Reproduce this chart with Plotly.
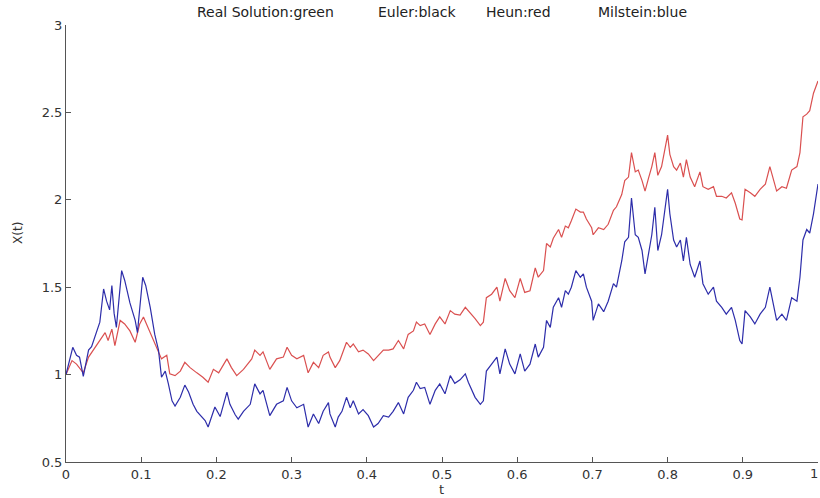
import plotly.graph_objects as go

# Milstein (blue)
t_blue = [0.000, 0.009, 0.014, 0.018, 0.023, 0.030, 0.034, 0.041, 0.045, 0.050, 0.054, 0.058, 0.061, 0.064, 0.067,
          0.074, 0.078, 0.085, 0.092, 0.095, 0.102, 0.106, 0.112, 0.118, 0.123, 0.127, 0.132, 0.136, 0.141, 0.145,
          0.152, 0.158, 0.163, 0.169, 0.174, 0.185, 0.189, 0.198, 0.205, 0.214, 0.218, 0.225, 0.229, 0.236, 0.245,
          0.251, 0.258, 0.262, 0.271, 0.280, 0.289, 0.294, 0.300, 0.307, 0.316, 0.322, 0.329, 0.336, 0.342, 0.349,
          0.351, 0.358, 0.362, 0.367, 0.373, 0.378, 0.382, 0.389, 0.395, 0.402, 0.409, 0.415, 0.422, 0.429, 0.435,
          0.442, 0.449, 0.455, 0.462, 0.466, 0.471, 0.477, 0.484, 0.491, 0.497, 0.504, 0.511, 0.517, 0.524, 0.531,
          0.535, 0.544, 0.551, 0.555, 0.559, 0.566, 0.573, 0.577, 0.584, 0.590, 0.597, 0.604, 0.610, 0.617, 0.624,
          0.628, 0.635, 0.639, 0.644, 0.648, 0.655, 0.659, 0.664, 0.668, 0.672, 0.678, 0.684, 0.688, 0.692, 0.699,
          0.701, 0.708, 0.715, 0.721, 0.728, 0.732, 0.739, 0.743, 0.748, 0.752, 0.757, 0.761, 0.766, 0.770, 0.775,
          0.779, 0.783, 0.787, 0.792, 0.797, 0.800, 0.803, 0.808, 0.812, 0.817, 0.821, 0.825, 0.830, 0.836, 0.843,
          0.847, 0.854, 0.861, 0.865, 0.872, 0.878, 0.885, 0.890, 0.896, 0.899, 0.903, 0.910, 0.916, 0.923, 0.930,
          0.936, 0.941, 0.945, 0.952, 0.958, 0.965, 0.972, 0.976, 0.980, 0.985, 0.989, 0.994, 0.998, 1.000]
x_blue = [1.00, 1.156, 1.11, 1.10, 0.99, 1.14, 1.16, 1.25, 1.30, 1.49, 1.42, 1.37, 1.51, 1.35, 1.27,
          1.595, 1.54, 1.41, 1.31, 1.24, 1.557, 1.51, 1.385, 1.23, 1.14, 0.985, 1.02, 0.95, 0.85, 0.82,
          0.87, 0.94, 0.90, 0.83, 0.79, 0.737, 0.70, 0.815, 0.76, 0.90, 0.83, 0.77, 0.745, 0.79, 0.83,
          0.947, 0.89, 0.91, 0.765, 0.83, 0.85, 0.927, 0.85, 0.81, 0.83, 0.70, 0.775, 0.72, 0.79, 0.84,
          0.775, 0.70, 0.757, 0.79, 0.87, 0.81, 0.85, 0.775, 0.80, 0.765, 0.70, 0.72, 0.765, 0.757, 0.79,
          0.84, 0.775, 0.87, 0.91, 0.956, 0.92, 0.927, 0.83, 0.91, 0.947, 0.89, 0.994, 0.95, 0.97, 1.004,
          0.956, 0.87, 0.83, 0.85, 1.02, 1.06, 1.10, 1.004, 1.147, 1.06, 1.004, 1.118, 1.02, 1.06, 1.175,
          1.10, 1.156, 1.31, 1.27, 1.385, 1.44, 1.385, 1.48, 1.46, 1.50, 1.595, 1.557, 1.576, 1.50, 1.42,
          1.31, 1.405, 1.36, 1.42, 1.52, 1.50, 1.65, 1.76, 1.785, 2.01, 1.80, 1.785, 1.71, 1.576, 1.71,
          1.80, 1.957, 1.71, 1.80, 1.957, 2.06, 1.92, 1.77, 1.73, 1.77, 1.65, 1.785, 1.63, 1.557, 1.65,
          1.52, 1.46, 1.50, 1.42, 1.385, 1.346, 1.385, 1.31, 1.195, 1.175, 1.366, 1.33, 1.29, 1.346, 1.385,
          1.50, 1.385, 1.31, 1.346, 1.31, 1.44, 1.42, 1.557, 1.77, 1.83, 1.81, 1.92, 2.04, 2.09]

# Heun (red)
t_red = [0.000, 0.008, 0.014, 0.023, 0.030, 0.036, 0.045, 0.052, 0.056, 0.061, 0.065, 0.072, 0.078, 0.085, 0.092,
         0.098, 0.103, 0.109, 0.116, 0.123, 0.127, 0.134, 0.138, 0.145, 0.152, 0.158, 0.165, 0.174, 0.182, 0.189,
         0.196, 0.203, 0.214, 0.220, 0.227, 0.236, 0.247, 0.251, 0.258, 0.262, 0.271, 0.280, 0.289, 0.294, 0.300,
         0.307, 0.316, 0.322, 0.329, 0.336, 0.342, 0.349, 0.351, 0.358, 0.364, 0.373, 0.378, 0.382, 0.389, 0.395,
         0.402, 0.409, 0.415, 0.422, 0.429, 0.435, 0.442, 0.449, 0.455, 0.462, 0.466, 0.471, 0.477, 0.484, 0.491,
         0.497, 0.504, 0.511, 0.517, 0.524, 0.531, 0.535, 0.544, 0.551, 0.555, 0.559, 0.566, 0.573, 0.577, 0.584,
         0.590, 0.597, 0.604, 0.610, 0.617, 0.624, 0.628, 0.635, 0.639, 0.644, 0.648, 0.655, 0.659, 0.664, 0.668,
         0.672, 0.678, 0.684, 0.688, 0.692, 0.699, 0.701, 0.708, 0.715, 0.721, 0.728, 0.732, 0.739, 0.743, 0.748,
         0.752, 0.757, 0.761, 0.766, 0.770, 0.775, 0.779, 0.783, 0.787, 0.792, 0.797, 0.800, 0.803, 0.808, 0.812,
         0.817, 0.821, 0.825, 0.830, 0.836, 0.843, 0.847, 0.854, 0.861, 0.865, 0.872, 0.878, 0.885, 0.890, 0.896,
         0.899, 0.903, 0.910, 0.916, 0.923, 0.930, 0.936, 0.941, 0.945, 0.952, 0.958, 0.965, 0.972, 0.976, 0.980,
         0.985, 0.989, 0.994, 0.998, 1.000]
x_red = [1.00, 1.08, 1.06, 1.01, 1.10, 1.14, 1.195, 1.24, 1.195, 1.26, 1.166, 1.31, 1.29, 1.25, 1.185,
         1.29, 1.33, 1.27, 1.21, 1.13, 1.09, 1.11, 1.004, 0.994, 1.02, 1.07, 1.04, 1.01, 0.985, 0.956,
         1.03, 1.01, 1.09, 1.04, 0.994, 1.03, 1.09, 1.14, 1.11, 1.13, 1.03, 1.09, 1.10, 1.156, 1.11,
         1.09, 1.11, 1.01, 1.07, 1.04, 1.11, 1.13, 1.10, 1.04, 1.08, 1.185, 1.156, 1.175, 1.13, 1.14,
         1.118, 1.08, 1.11, 1.14, 1.14, 1.147, 1.195, 1.147, 1.23, 1.25, 1.30, 1.28, 1.29, 1.23, 1.29,
         1.33, 1.29, 1.366, 1.346, 1.34, 1.385, 1.366, 1.32, 1.28, 1.30, 1.44, 1.46, 1.50, 1.42, 1.55,
         1.48, 1.44, 1.55, 1.47, 1.48, 1.61, 1.557, 1.595, 1.75, 1.73, 1.78, 1.83, 1.785, 1.85, 1.84,
         1.88, 1.947, 1.93, 1.93, 1.89, 1.84, 1.80, 1.84, 1.83, 1.86, 1.94, 1.96, 2.03, 2.11, 2.13,
         2.27, 2.16, 2.17, 2.11, 2.05, 2.13, 2.19, 2.27, 2.14, 2.19, 2.29, 2.37, 2.26, 2.19, 2.17,
         2.21, 2.13, 2.23, 2.13, 2.075, 2.16, 2.075, 2.06, 2.075, 2.02, 2.02, 2.01, 2.04, 1.98, 1.89,
         1.885, 2.06, 2.04, 2.02, 2.06, 2.09, 2.19, 2.11, 2.05, 2.075, 2.066, 2.17, 2.19, 2.27, 2.475,
         2.49, 2.51, 2.61, 2.665, 2.68]

x_ticks = [0, 0.1, 0.2, 0.3, 0.4, 0.5, 0.6, 0.7, 0.8, 0.9, 1]
x_tick_labels = ["0", "0.1", "0.2", "0.3", "0.4", "0.5", "0.6", "0.7", "0.8", "0.9", "1"]
y_ticks = [0.5, 1, 1.5, 2, 2.5, 3]
y_tick_labels = ["0.5", "1", "1.5", "2", "2.5", "3"]
legend_parts = ["Real Solution:green", "Euler:black", "Heun:red", "Milstein:blue"]

font_family = "DejaVu Sans, Liberation Sans, Arial, sans-serif"
axis_color = "#555555"
tick_font = dict(family=font_family, size=13, color="#333333")

fig = go.Figure()
fig.add_trace(go.Scatter(x=t_red, y=x_red, mode="lines",
                         line=dict(color="rgb(218,80,80)", width=1.2), showlegend=False))
fig.add_trace(go.Scatter(x=t_blue, y=x_blue, mode="lines",
                         line=dict(color="rgb(45,45,170)", width=1.2), showlegend=False))

axis_common = dict(showgrid=False, zeroline=False, showline=True, linecolor=axis_color, linewidth=1,
                   ticks="inside", ticklen=5, tickcolor=axis_color, mirror=False, automargin=False,
                   tickfont=tick_font)
# last x label sits at the very right edge; it is drawn as an annotation so it is not dropped
fig.update_xaxes(range=[0, 1], tickvals=x_ticks, ticktext=x_tick_labels[:-1] + [""], **axis_common)
fig.update_yaxes(range=[0.5, 3], tickvals=y_ticks, ticktext=y_tick_labels, **axis_common)

annots = []
legend_x = [0.1715, 0.412, 0.556, 0.705]
for txt, xp in zip(legend_parts, legend_x):
    annots.append(dict(text=txt, x=xp, y=1.03, xref="paper", yref="paper", xanchor="left",
                       yanchor="middle", showarrow=False,
                       font=dict(family=font_family, size=14, color="#222222")))
annots.append(dict(text=x_tick_labels[-1], x=x_ticks[-1], y=0, xref="x", yref="paper",
                   xanchor="right", yanchor="top", xshift=2, yshift=-2, showarrow=False,
                   font=tick_font))
annots.append(dict(text="X(t)", x=-0.064, y=0.524, xref="paper", yref="paper", textangle=-90,
                   showarrow=False, xanchor="center", yanchor="middle",
                   font=dict(family=font_family, size=12, color="#333333")))
annots.append(dict(text="t", x=0.4987, y=-0.062, xref="paper", yref="paper",
                   showarrow=False, xanchor="center", yanchor="middle",
                   font=dict(family=font_family, size=13, color="#333333")))

fig.update_layout(width=820, height=498, margin=dict(l=66, r=2, t=25, b=36),
                  plot_bgcolor="white", paper_bgcolor="white", annotations=annots,
                  showlegend=False)

# remove the default page margin so the 820x498 figure fills the window exactly
fig.write_html("out.html", config={"displayModeBar": False},
               post_script="document.body.style.margin='0';document.body.style.overflow='hidden';")
